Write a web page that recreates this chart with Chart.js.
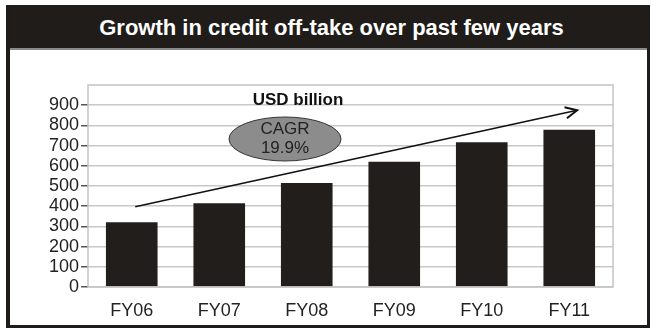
<!DOCTYPE html>
<html>
<head>
<meta charset="utf-8">
<script src="https://cdn.jsdelivr.net/npm/chart.js@4"></script>
<style>
  html, body { margin: 0; padding: 0; background: #fff; }
  #wrap { position: relative; width: 651px; height: 329px; overflow: hidden; }
  #frame {
    position: absolute; left: 6px; top: 5px; width: 637px; height: 320px;
    border-left: 4px solid #1f1b18; border-right: 3px solid #1f1b18; border-bottom: 3px solid #1f1b18;
    box-sizing: content-box;
  }
  #band {
    position: absolute; left: 0; top: 0; right: 0; height: 45px;
    background: #201c19; border-bottom: 2px solid #8a8a8a;
    color: #fff; font: bold 22px "Liberation Sans", Arial, sans-serif;
    line-height: 46px; text-align: center; padding-left: 6px; box-sizing: border-box;
  }
  #chart { position: absolute; left: 0; top: 0; }
</style>
</head>
<body>
<div id="wrap">
  <div id="frame"><div id="band">Growth in credit off-take over past few years</div></div>
  <canvas id="chart" width="651" height="329"></canvas>
</div>
<script>
const years = ['FY06', 'FY07', 'FY08', 'FY09', 'FY10', 'FY11'];
const creditUSDbn = [320, 415, 515, 620, 717, 778];
const yTicks = [0, 100, 200, 300, 400, 500, 600, 700, 800, 900];

// trend arrow: [category index, value] at each end
const arrowFrom = [0.04, 397];
const arrowTo = [5.09, 875];

const FONT = '"Liberation Sans", Arial, sans-serif';

const extras = {
  id: 'extras',
  afterDraw(chart) {
    const { ctx, chartArea: a, scales: { x, y } } = chart;
    ctx.save();

    // plot box
    ctx.strokeStyle = '#c4c4c4';
    ctx.lineWidth = 1.5;
    ctx.strokeRect(a.left, a.top, a.right - a.left, a.bottom - a.top);

    // unit label
    ctx.fillStyle = '#111';
    ctx.font = 'bold 17px ' + FONT;
    ctx.textAlign = 'center';
    ctx.textBaseline = 'middle';
    ctx.fillText('USD billion', a.left + 210, a.top + 15);

    // CAGR bubble
    const cx = a.left + 197, cy = a.top + 54;
    ctx.beginPath();
    ctx.ellipse(cx, cy, 56, 22, 0, 0, Math.PI * 2);
    ctx.fillStyle = '#8c8c8c';
    ctx.fill();
    ctx.strokeStyle = '#333';
    ctx.lineWidth = 1;
    ctx.stroke();
    ctx.fillStyle = '#222';
    ctx.font = '17px ' + FONT;
    ctx.fillText('CAGR', cx, cy - 10);
    ctx.fillText('19.9%', cx, cy + 9);

    // growth arrow
    const x1 = x.getPixelForValue(arrowFrom[0]), y1 = y.getPixelForValue(arrowFrom[1]);
    const x2 = x.getPixelForValue(arrowTo[0]), y2 = y.getPixelForValue(arrowTo[1]);
    ctx.strokeStyle = '#111';
    ctx.lineWidth = 1.5;
    ctx.beginPath();
    ctx.moveTo(x1, y1);
    ctx.lineTo(x2, y2);
    ctx.stroke();
    const ang = Math.atan2(y2 - y1, x2 - x1);
    ctx.lineWidth = 2;
    ctx.beginPath();
    ctx.moveTo(x2 - 13 * Math.cos(ang - 0.45), y2 - 13 * Math.sin(ang - 0.45));
    ctx.lineTo(x2, y2);
    ctx.lineTo(x2 - 13 * Math.cos(ang + 0.45), y2 - 13 * Math.sin(ang + 0.45));
    ctx.stroke();

    ctx.restore();
  }
};

new Chart(document.getElementById('chart'), {
  type: 'bar',
  data: {
    labels: years,
    datasets: [{
      data: creditUSDbn,
      backgroundColor: '#221e1b',
      borderWidth: 0,
      categoryPercentage: 1,
      barPercentage: 0.59
    }]
  },
  options: {
    responsive: false,
    animation: false,
    events: [],
    layout: { padding: { left: 0, top: 85, right: 38, bottom: 0 } },
    plugins: { legend: { display: false }, tooltip: { enabled: false } },
    scales: {
      x: {
        grid: { display: false },
        border: { display: false },
        ticks: { color: '#222', font: { family: FONT, size: 18 }, padding: 5 },
        afterFit: s => { s.height = 42; }
      },
      y: {
        min: 0,
        max: 1000,
        afterBuildTicks: s => { s.ticks = yTicks.concat(1000).map(v => ({ value: v })); },
        grid: { color: '#c8c8c8', lineWidth: 1.5, tickColor: '#555', tickLength: 7 },
        border: { display: false },
        ticks: {
          color: '#222',
          font: { family: FONT, size: 18 },
          padding: 2,
          autoSkip: false,
          callback: v => (yTicks.includes(v) ? String(v) : null)
        },
        afterFit: s => { s.width = 88; }
      }
    }
  },
  plugins: [extras]
});
</script>
</body>
</html>
